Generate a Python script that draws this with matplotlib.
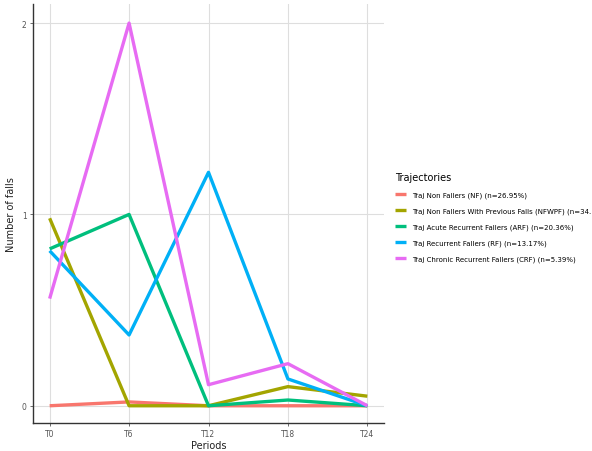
import matplotlib
matplotlib.use('Agg')
import matplotlib.pyplot as plt

periods = ['T0', 'T6', 'T12', 'T18', 'T24']
months = [0, 6, 12, 18, 24]

labels = [
    'Traj Non Fallers (NF) (n=26.95%)',
    'Traj Non Fallers With Previous Falls (NFWPF) (n=34.13%)',
    'Traj Acute Recurrent Fallers (ARF) (n=20.36%)',
    'Traj Recurrent Fallers (RF) (n=13.17%)',
    'Traj Chronic Recurrent Fallers (CRF) (n=5.39%)',
]
colors = ['#F8766D', '#A3A500', '#00BF7D', '#00B0F6', '#E76BF3']

nf = [0.0, 0.02, 0.0, 0.0, 0.0]
nfwpf = [0.98, 0.0, 0.0, 0.10, 0.05]
arf = [0.82, 1.0, 0.0, 0.03, 0.0]
rf = [0.81, 0.37, 1.22, 0.14, 0.0]
crf = [0.56, 2.0, 0.11, 0.22, 0.0]
series = [nf, nfwpf, arf, rf, crf]

fig = plt.figure(figsize=(5.92, 4.52), dpi=100)
ax = fig.add_axes([0.0557, 0.062, 0.593, 0.927])

for vals, lab, col in zip(series, labels, colors):
    ax.plot(months, vals, color=col, linewidth=2.4, label=lab, solid_capstyle='butt')

ax.set_xlim(-1.26, 25.26)
ax.set_ylim(-0.09, 2.1)
ax.set_xticks(months)
ax.set_xticklabels(periods)
ax.set_yticks([0, 1, 2])
ax.grid(True, color='#dedede', linewidth=0.8)
ax.set_axisbelow(True)
for s in ['top', 'right']:
    ax.spines[s].set_visible(False)
for s in ['left', 'bottom']:
    ax.spines[s].set_color('#333333')
    ax.spines[s].set_linewidth(1.0)
ax.tick_params(colors='#555555', labelsize=5.5, length=2.5, width=0.6, pad=2)
ax.set_xlabel('Periods', fontsize=7, color='#222222', labelpad=1)
ax.set_ylabel('Number of falls', fontsize=7, color='#222222', labelpad=4)

leg = fig.legend(loc='upper left', bbox_to_anchor=(0.657, 0.63), frameon=False,
                 title='Trajectories', fontsize=5.0, title_fontsize=7,
                 handlelength=1.6, handletextpad=0.9, labelspacing=1.35)
leg._legend_box.align = 'left'
for line in leg.get_lines():
    line.set_linewidth(2.4)

fig.savefig('out.png', dpi=100)
